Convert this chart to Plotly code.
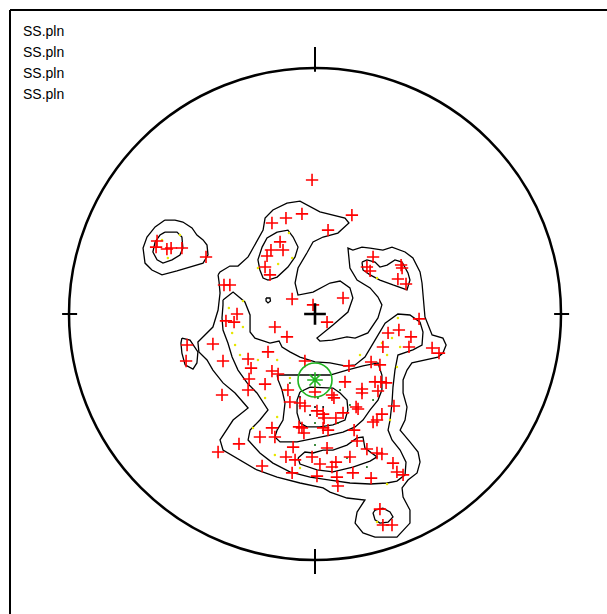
import plotly.graph_objects as go

# ---------------- data (equal-area net coordinates, unit radius) ----------------
pole_x = [-0.012, -0.175, -0.118, -0.053, 0.053, 0.150, -0.642, -0.646, -0.602, -0.585,
          -0.541, -0.443, -0.142, -0.179, -0.130, -0.195, -0.203, -0.183, -0.370, -0.346,
          -0.317, -0.362, -0.329, -0.093, -0.008, 0.049, -0.163, 0.236, 0.211, 0.224,
          0.350, 0.354, 0.337, 0.370, 0.114, 0.423, 0.341, 0.297, 0.390, 0.382,
          0.276, 0.476, 0.504, 0.228, 0.264, 0.138, 0.122, 0.244, 0.268, 0.289,
          0.256, 0.069, -0.520, -0.524, -0.415, -0.374, -0.378, -0.114, -0.191, -0.272,
          -0.260, -0.175, -0.150, -0.268, -0.203, -0.272, -0.041, -0.110, 0.000, 0.191,
          0.191, 0.077, -0.102, -0.061, -0.041, 0.167, 0.175, 0.008, 0.033, 0.037,
          0.085, 0.114, 0.272, 0.252, 0.236, 0.321, -0.065, -0.053, -0.045, 0.033,
          0.053, 0.159, -0.175, -0.163, -0.224, -0.309, -0.089, 0.049, 0.171, 0.211,
          0.252, 0.272, -0.394, -0.215, -0.118, -0.081, -0.012, 0.020, 0.085, 0.069,
          0.142, 0.317, 0.333, 0.358, -0.093, 0.008, 0.089, 0.154, 0.228, 0.093,
          0.264, 0.276, 0.313]
pole_y = [0.545, 0.370, 0.390, 0.407, 0.341, 0.402, 0.297, 0.272, 0.264, 0.268,
          0.268, 0.232, 0.293, 0.260, 0.260, 0.236, 0.191, 0.159, 0.118, 0.118,
          0.000, -0.028, -0.033, 0.061, 0.037, -0.033, -0.053, 0.232, 0.191, 0.175,
          0.199, 0.187, 0.142, 0.122, 0.065, -0.020, -0.065, -0.077, -0.093, -0.134,
          -0.134, -0.138, -0.159, -0.195, -0.207, -0.211, -0.276, -0.276, -0.276, -0.280,
          -0.313, -0.329, -0.126, -0.191, -0.122, -0.191, -0.329, -0.093, -0.154, -0.183,
          -0.220, -0.232, -0.244, -0.264, -0.285, -0.309, -0.191, -0.309, -0.317, -0.305,
          -0.321, -0.341, -0.358, -0.362, -0.374, -0.378, -0.386, -0.394, -0.407, -0.423,
          -0.423, -0.402, -0.407, -0.431, -0.439, -0.374, -0.459, -0.463, -0.484, -0.463,
          -0.472, -0.472, -0.463, -0.500, -0.500, -0.528, -0.541, -0.545, -0.516, -0.549,
          -0.565, -0.569, -0.561, -0.618, -0.581, -0.593, -0.581, -0.610, -0.602, -0.622,
          -0.581, -0.606, -0.642, -0.654, -0.646, -0.659, -0.663, -0.646, -0.667, -0.699,
          -0.793, -0.858, -0.858]

# mean pole
mean_x = [0.000]
mean_y = [-0.268]

# density samples drawn as tiny dots
dot_yellow_x = [-0.622, -0.549, -0.598, -0.106, -0.093, -0.232, -0.150, -0.293, -0.350, -0.293,
                -0.337, -0.325, -0.305, -0.232, -0.102, -0.122, -0.203, -0.154, -0.252, -0.163,
                -0.061, 0.305, 0.333, 0.346, 0.272, -0.154, 0.337, 0.313, 0.293, 0.252,
                0.183, 0.252, 0.293]
dot_yellow_y = [0.301, 0.321, 0.228, 0.329, 0.228, 0.187, 0.203, 0.053, 0.024, -0.053,
                -0.077, -0.126, -0.167, -0.187, -0.260, -0.309, -0.341, -0.419, -0.463, -0.573,
                -0.626, -0.431, -0.215, -0.134, -0.118, -0.187, -0.016, -0.098, -0.167, 0.146,
                -0.167, -0.846, -0.691]
dot_green_x = [-0.102, 0.012, 0.102, 0.142, 0.000, 0.093, 0.236, 0.154, 0.000, 0.049, 0.130, 0.211]
dot_green_y = [-0.280, -0.341, -0.309, -0.370, -0.443, -0.443, -0.350, -0.472, -0.533, -0.565, -0.585, -0.622]
dot_black_x = [-0.061, 0.000, -0.020, 0.033]
dot_black_y = [-0.337, -0.378, -0.411, -0.378]

# contour lines (level 1 = outermost)
c1_main_x = [-0.394, -0.386, -0.346, -0.313, -0.272, -0.236, -0.211, -0.203, -0.171, -0.114,
             -0.061, 0.020, 0.122, 0.138, 0.093, 0.033, -0.008, -0.033, -0.069, -0.081,
             -0.069, -0.008, 0.061, 0.102, 0.142, 0.154, 0.134, 0.073, 0.008, 0.020,
             0.069, 0.130, 0.163, 0.215, 0.256, 0.272, 0.256, 0.224, 0.171, 0.142,
             0.134, 0.154, 0.191, 0.224, 0.276, 0.313, 0.366, 0.398, 0.427, 0.435,
             0.439, 0.447, 0.476, 0.520, 0.533, 0.520, 0.500, 0.447, 0.394, 0.374,
             0.358, 0.358, 0.374, 0.366, 0.346, 0.386, 0.419, 0.427, 0.415, 0.378,
             0.354, 0.358, 0.386, 0.386, 0.333, 0.244, 0.195, 0.163, 0.171, 0.203,
             0.130, 0.061, 0.033, -0.061, -0.154, -0.236, -0.305, -0.374, -0.386, -0.333,
             -0.272, -0.325, -0.374, -0.415, -0.439, -0.472, -0.476, -0.455, -0.415, -0.394,
             -0.386, -0.390, -0.394]
c1_main_y = [0.159, 0.171, 0.195, 0.195, 0.232, 0.293, 0.341, 0.390, 0.423, 0.451,
             0.459, 0.415, 0.390, 0.370, 0.329, 0.313, 0.293, 0.248, 0.187, 0.126,
             0.077, 0.089, 0.126, 0.134, 0.106, 0.065, 0.008, -0.045, -0.098, -0.110,
             -0.106, -0.093, -0.098, -0.077, -0.016, 0.037, 0.069, 0.106, 0.138, 0.187,
             0.268, 0.260, 0.272, 0.268, 0.260, 0.272, 0.252, 0.228, 0.171, 0.126,
             0.069, -0.012, -0.085, -0.098, -0.126, -0.159, -0.175, -0.187, -0.199, -0.228,
             -0.268, -0.321, -0.378, -0.431, -0.472, -0.520, -0.561, -0.602, -0.646, -0.675,
             -0.707, -0.744, -0.797, -0.850, -0.907, -0.907, -0.890, -0.850, -0.805, -0.756,
             -0.748, -0.724, -0.707, -0.687, -0.663, -0.634, -0.593, -0.553, -0.512, -0.431,
             -0.382, -0.321, -0.280, -0.228, -0.187, -0.154, -0.114, -0.093, -0.053, 0.016,
             0.085, 0.130, 0.159]
c1_topleft_x = [-0.610, -0.569, -0.537, -0.500, -0.480, -0.455, -0.439, -0.435, -0.455, -0.516,
                -0.561, -0.622, -0.663, -0.691, -0.699, -0.683, -0.650, -0.610]
c1_topleft_y = [0.382, 0.382, 0.374, 0.350, 0.321, 0.301, 0.280, 0.240, 0.207, 0.187,
                0.175, 0.159, 0.179, 0.207, 0.268, 0.313, 0.354, 0.382]
c1_left_x = [-0.541, -0.508, -0.476, -0.480, -0.496, -0.528, -0.541, -0.545, -0.541]
c1_left_y = [-0.098, -0.106, -0.154, -0.199, -0.224, -0.207, -0.159, -0.118, -0.098]
c1_small_x = [-0.199, -0.183, -0.181, -0.191, -0.199, -0.199]
c1_small_y = [0.065, 0.065, 0.053, 0.045, 0.053, 0.065]

c2_main_x = [-0.374, -0.333, -0.285, -0.264, -0.264, -0.244, -0.183, -0.146, -0.134, -0.102,
             -0.061, 0.000, 0.061, 0.122, 0.163, 0.203, 0.244, 0.285, 0.337, 0.386,
             0.427, 0.439, 0.435, 0.398, 0.337, 0.325, 0.317, 0.313, 0.305, 0.297,
             0.313, 0.346, 0.370, 0.366, 0.333, 0.293, 0.224, 0.142, 0.061, -0.020,
             -0.102, -0.171, -0.224, -0.272, -0.264, -0.224, -0.191, -0.236, -0.276, -0.313,
             -0.337, -0.354, -0.374, -0.378, -0.374, -0.374]
c2_main_y = [0.057, 0.089, 0.049, -0.004, -0.073, -0.098, -0.118, -0.110, -0.134, -0.154,
             -0.175, -0.195, -0.199, -0.211, -0.207, -0.175, -0.106, -0.037, 0.000, -0.004,
             -0.033, -0.073, -0.126, -0.146, -0.167, -0.228, -0.297, -0.362, -0.431, -0.472,
             -0.512, -0.553, -0.602, -0.654, -0.679, -0.687, -0.691, -0.687, -0.675, -0.663,
             -0.642, -0.606, -0.565, -0.512, -0.472, -0.431, -0.390, -0.321, -0.280, -0.228,
             -0.175, -0.118, -0.065, -0.016, 0.037, 0.057]
c2_topleft_x = [-0.610, -0.561, -0.541, -0.537, -0.549, -0.581, -0.618, -0.642, -0.659, -0.650, -0.630, -0.610]
c2_topleft_y = [0.333, 0.333, 0.313, 0.268, 0.240, 0.220, 0.207, 0.220, 0.252, 0.293, 0.321, 0.333]
c2_upper_x = [-0.154, -0.110, -0.089, -0.069, -0.081, -0.110, -0.154, -0.191, -0.211, -0.224, -0.232, -0.215, -0.195, -0.154]
c2_upper_y = [0.333, 0.341, 0.313, 0.272, 0.232, 0.191, 0.150, 0.138, 0.146, 0.179, 0.220, 0.272, 0.309, 0.333]
c2_right_x = [0.191, 0.211, 0.244, 0.264, 0.293, 0.325, 0.354, 0.378, 0.386, 0.374, 0.317, 0.264, 0.224, 0.195, 0.191]
c2_right_y = [0.211, 0.220, 0.211, 0.191, 0.199, 0.220, 0.211, 0.167, 0.138, 0.098, 0.118, 0.138, 0.159, 0.179, 0.211]
c2_bottom_x = [0.244, 0.276, 0.305, 0.317, 0.297, 0.264, 0.244, 0.236, 0.244]
c2_bottom_y = [-0.797, -0.789, -0.805, -0.825, -0.846, -0.850, -0.837, -0.809, -0.797]

c3_upper_x = [-0.154, 0.061, 0.130, 0.195, 0.256, 0.272, 0.272, 0.256, 0.224, 0.195,
              0.163, 0.114, 0.061, 0.008, -0.073, -0.142, -0.163, -0.154, -0.130, -0.122,
              -0.134, -0.150, -0.154]
c3_upper_y = [-0.248, -0.248, -0.228, -0.211, -0.199, -0.248, -0.309, -0.350, -0.390, -0.431,
              -0.459, -0.480, -0.492, -0.504, -0.520, -0.520, -0.500, -0.472, -0.431, -0.362,
              -0.309, -0.268, -0.248]
c3_lower_x = [-0.069, -0.041, -0.008, 0.033, 0.073, 0.130, 0.171, 0.195, 0.203, 0.224,
              0.252, 0.224, 0.154, 0.073, 0.008, -0.061, -0.069]
c3_lower_y = [-0.585, -0.561, -0.565, -0.553, -0.553, -0.533, -0.504, -0.500, -0.545, -0.561,
              -0.581, -0.598, -0.622, -0.642, -0.634, -0.610, -0.585]

c4_x = [-0.061, -0.020, 0.073, 0.102, 0.130, 0.134, 0.122, 0.073, 0.020, -0.033, -0.061, -0.073, -0.073, -0.061]
c4_y = [-0.317, -0.297, -0.301, -0.321, -0.350, -0.390, -0.431, -0.451, -0.459, -0.459, -0.443, -0.402, -0.350, -0.317]

file_labels = ["SS.pln", "SS.pln", "SS.pln", "SS.pln"]

# ---------------- figure ----------------
W, H = 607, 614
CX, CY, R = 315, 314, 246  # net centre and radius in pixels

fig = go.Figure()

contours = [
    (c1_main_x, c1_main_y), (c1_topleft_x, c1_topleft_y), (c1_left_x, c1_left_y),
    (c1_small_x, c1_small_y),
    (c2_main_x, c2_main_y), (c2_topleft_x, c2_topleft_y), (c2_upper_x, c2_upper_y),
    (c2_right_x, c2_right_y), (c2_bottom_x, c2_bottom_y),
    (c3_upper_x, c3_upper_y), (c3_lower_x, c3_lower_y),
    (c4_x, c4_y),
]
for cx, cy in contours:
    fig.add_trace(go.Scatter(x=cx, y=cy, mode="lines",
                             line=dict(color="black", width=1.3),
                             hoverinfo="skip", showlegend=False))

fig.add_trace(go.Scatter(x=dot_yellow_x, y=dot_yellow_y, mode="markers",
                         marker=dict(color="#e6e600", size=2.5), showlegend=False))
fig.add_trace(go.Scatter(x=dot_green_x, y=dot_green_y, mode="markers",
                         marker=dict(color="#006400", size=2), showlegend=False))
fig.add_trace(go.Scatter(x=dot_black_x, y=dot_black_y, mode="markers",
                         marker=dict(color="black", size=2), showlegend=False))

RED = "#ff0000"
GREEN = "#1fb41f"

fig.add_trace(go.Scatter(x=pole_x, y=pole_y, mode="markers",
                         marker=dict(symbol="cross-thin-open", size=8.8, color=RED,
                                     line=dict(color=RED, width=1.6)),
                         showlegend=False))

# centre cross
fig.add_trace(go.Scatter(x=[0], y=[0], mode="markers",
                         marker=dict(symbol="cross-thin-open", size=15.5, color="black",
                                     line=dict(color="black", width=2.6)),
                         showlegend=False))

# mean pole with cone
fig.add_trace(go.Scatter(x=mean_x, y=mean_y, mode="markers",
                         marker=dict(symbol="circle-open", size=34, color=GREEN,
                                     line=dict(color=GREEN, width=1.6)),
                         showlegend=False))
fig.add_trace(go.Scatter(x=mean_x, y=mean_y, mode="markers",
                         marker=dict(symbol="asterisk-open", size=13, color=GREEN,
                                     line=dict(color=GREEN, width=1.6)),
                         showlegend=False))

shapes = [
    dict(type="circle", xref="x", yref="y", x0=-1, y0=-1, x1=1, y1=1,
         line=dict(color="black", width=2.5)),
    dict(type="line", xref="x", yref="y", x0=0, x1=0, y0=0.985, y1=1.085, line=dict(color="black", width=2)),
    dict(type="line", xref="x", yref="y", x0=0, x1=0, y0=-0.955, y1=-1.057, line=dict(color="black", width=2)),
    dict(type="line", xref="x", yref="y", y0=0, y1=0, x0=-0.967, x1=-1.028, line=dict(color="black", width=2)),
    dict(type="line", xref="x", yref="y", y0=0, y1=0, x0=0.972, x1=1.033, line=dict(color="black", width=2)),
    # outer frame (left and top edges visible)
    dict(type="line", xref="paper", yref="paper", x0=10 / W, x1=10 / W, y0=0, y1=1 - 10 / H,
         line=dict(color="black", width=2)),
    dict(type="line", xref="paper", yref="paper", x0=10 / W, x1=1, y0=1 - 10 / H, y1=1 - 10 / H,
         line=dict(color="black", width=2)),
]

annotations = []
for i, lab in enumerate(file_labels):
    annotations.append(dict(text=lab, xref="paper", yref="paper",
                            x=21 / W, y=1 - (31 + 21 * i) / H,
                            xanchor="left", yanchor="middle", showarrow=False,
                            font=dict(family="Liberation Sans, Arial, sans-serif", size=14, color="black")))

fig.update_layout(
    width=W, height=H,
    margin=dict(l=0, r=0, t=0, b=0),
    paper_bgcolor="white", plot_bgcolor="white",
    xaxis=dict(range=[-CX / R, (W - CX) / R], visible=False, fixedrange=True),
    yaxis=dict(range=[-(H - CY) / R, CY / R], visible=False, fixedrange=True),
    shapes=shapes, annotations=annotations,
    showlegend=False,
)

fig.write_html("out.html", config={"displayModeBar": False},
               post_script="document.body.style.margin='0';document.body.style.overflow='hidden';")
